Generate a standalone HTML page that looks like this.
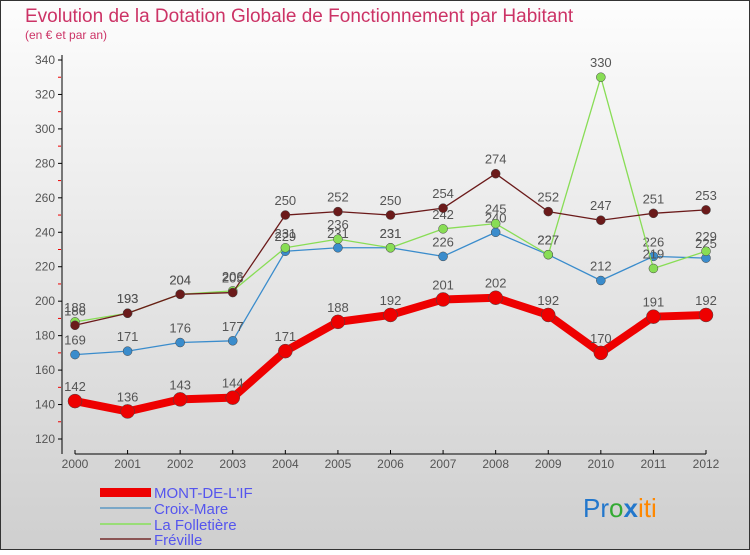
<!DOCTYPE html>
<html><head><meta charset="utf-8"><style>
body{margin:0}
#c{width:750px;height:550px;position:relative;font-family:"Liberation Sans",sans-serif}
</style></head><body>
<div id="c">
<svg width="750" height="550" id="svg">
<defs><linearGradient id="bg" x1="0" y1="0" x2="0" y2="1"><stop offset="0" stop-color="#fdfdfd"/><stop offset="1" stop-color="#cfcfcf"/></linearGradient></defs>
<rect x="0.5" y="0.5" width="749" height="549" fill="url(#bg)" stroke="#333"/>
<text x="25" y="22" font-size="19" fill="#cc3366">Evolution de la Dotation Globale de Fonctionnement par Habitant</text>
<text x="25" y="39" font-size="12" fill="#cc3366">(en € et par an)</text>
<g id="axes"></g><g id="series"></g>
<g font-size="15" fill="#5555ee">
<rect x="100" y="488" width="51" height="9" fill="#e00"/>
<text x="154" y="498">MONT-DE-L'IF</text>
<rect x="100" y="507" width="51" height="2" fill="#7aa7c7"/>
<text x="154" y="514">Croix-Mare</text>
<rect x="100" y="523" width="51" height="2" fill="#99dd77"/>
<text x="154" y="530">La Folletière</text>
<rect x="100" y="538" width="51" height="2" fill="#8b5555"/>
<text x="154" y="545">Fréville</text>
</g>
<text x="583" y="517" font-size="26"><tspan fill="#2277cc">Pr</tspan><tspan fill="#33aa33">o</tspan><tspan fill="#2277cc" font-weight="bold">x</tspan><tspan fill="#ff8800">iti</tspan></text>
</svg></div>
<script>
const years=[2000,2001,2002,2003,2004,2005,2006,2007,2008,2009,2010,2011,2012];
const yTicks=[120,140,160,180,200,220,240,260,280,300,320,340];
const mont=[142,136,143,144,171,188,192,201,202,192,170,191,192];
const croix=[169,171,176,177,229,231,231,226,240,227,212,226,225];
const folletiere=[188,193,204,206,231,236,231,242,245,227,330,219,229];
const freville=[186,193,204,205,250,252,250,254,274,252,247,251,253];
const NS="http://www.w3.org/2000/svg";
const X=i=>75+i*(706-75)/(years.length-1);
const Y=v=>439-(v-120)*(439-60)/220;
function mk(t,a,p){const e=document.createElementNS(NS,t);for(const k in a)e.setAttribute(k,a[k]);p.appendChild(e);return e;}
const ax=document.getElementById('axes');
const yl=mk('line',{x1:62,y1:55,x2:62,y2:454,stroke:'#000'},ax);


const xl=mk('line',{x1:75,y1:454,x2:706,y2:454,stroke:'#000'},ax);


yTicks.forEach((v,i)=>{
 mk('line',{x1:58,x2:62,y1:Y(v),y2:Y(v),stroke:'#000'},ax);
 if(i<yTicks.length-1) mk('line',{x1:58,x2:61,y1:Y(v+10),y2:Y(v+10),stroke:'#e00'},ax);
 const t=mk('text',{x:55,y:Y(v)+4,'text-anchor':'end','font-size':12,fill:'#555'},ax);
 t.textContent=v;
 
 
});
years.forEach((y,i)=>{
 mk('line',{x1:X(i),x2:X(i),y1:450,y2:454,stroke:'#000'},ax);
 const t=mk('text',{x:X(i),y:468,'text-anchor':'middle','font-size':12,fill:'#555'},ax);
 t.textContent=y;
 
 
});
const sg=document.getElementById('series');
function draw(data,color,w,r,name){
 const g=mk('g',{},sg);
 
 
 const p=mk('polyline',{points:data.map((v,i)=>X(i)+','+Y(v)).join(' '),fill:'none',stroke:color,'stroke-width':w,'stroke-linejoin':'round'},g);
 
 
 data.forEach((v,i)=>{
  const c=mk('circle',{cx:X(i),cy:Y(v),r:r,fill:color,stroke:'#444','stroke-width':0.5},g);
  
  
  const t=mk('text',{x:X(i),y:Y(v)-10,'text-anchor':'middle','font-size':13,fill:'#555'},g);
  t.textContent=v;
  
  
 });
}
draw(croix,'#3a8ccc',1.3,4.5,'croix-mare');
draw(folletiere,'#88dd55',1.3,4.5,'la-folletiere');
draw(freville,'#6b1a1a',1.3,4.5,'freville');
draw(mont,'#ee0000',8,7,'mont-de-l-if');
</script>
</body></html>
